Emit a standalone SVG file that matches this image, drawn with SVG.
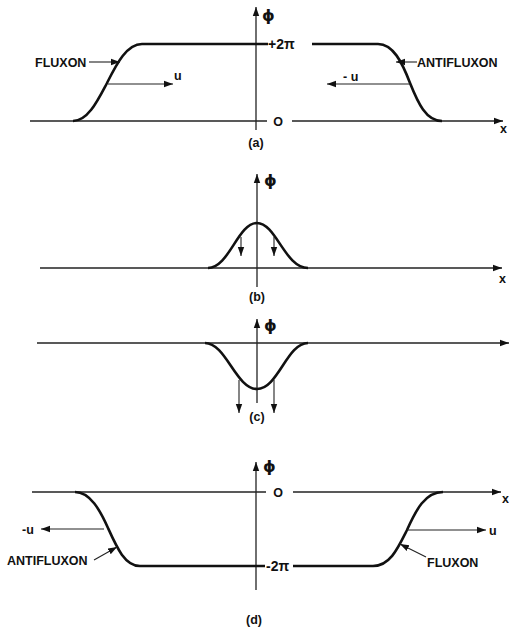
<svg xmlns="http://www.w3.org/2000/svg" width="509" height="631" viewBox="0 0 509 631">
<defs>
<marker id="ah" markerUnits="userSpaceOnUse" markerWidth="10" markerHeight="8" refX="9" refY="4" orient="auto">
<path d="M0,0.8 L9,4 L0,7.2 z" fill="#111"/>
</marker>
</defs>
<style>
.ax{stroke:#222;stroke-width:1.3;fill:none}
.cv{stroke:#111;stroke-width:2.6;fill:none;stroke-linejoin:round}
.ld{stroke:#222;stroke-width:1.1;fill:none}
.arr{marker-end:url(#ah)}
text{font-family:"Liberation Sans",Arial,sans-serif;font-size:12.5px;font-weight:bold;fill:#111}
.ph{font-family:"DejaVu Sans","Liberation Serif",serif;font-size:16px;font-weight:bold}
.pi{font-size:14px}
.c{text-anchor:middle}
</style>
<rect width="509" height="631" fill="#fff"/>

<g id="panel-a">
<g id="a-axes">
<path class="ax arr" d="M256,130 V7"/>
<path class="ax" d="M30,121 H267"/>
<path class="ax arr" d="M292,121 H503"/>
</g>
<g id="a-fluxon">
<path class="cv" d="M73,121 C88,121 98,100 107,83 C117,63 127,44 142,44 L268,44"/>
</g>
<g id="a-antifluxon">
<path class="cv" d="M312,44 L378,44 C393,44 402,62 410,83 C418,103 426,121 442,121"/>
</g>
<g id="a-connectors">
<path class="ld arr" d="M89,62 H120"/>
<path class="ld arr" d="M108,84 H173"/>
<path class="ld arr" d="M417,62 H396"/>
<path class="ld arr" d="M410,84 H327"/>
</g>
<text class="ph" x="262" y="21">ϕ</text>
<text x="35" y="67">FLUXON</text>
<text x="174" y="80">u</text>
<text class="pi" x="268" y="49">+2π</text>
<text x="278" y="126" class="c">O</text>
<text x="417" y="67">ANTIFLUXON</text>
<text x="343" y="81">- u</text>
<text x="500" y="133">x</text>
<text x="256" y="147" class="c">(a)</text>
</g>

<g id="panel-b">
<path class="ax arr" d="M257,287 V174"/>
<path class="ax arr" d="M40,268 H502"/>
<path class="cv" d="M208,268 C229,268 238,223 257,223 C276,223 285,268 308,268"/>
<path class="ld arr" d="M241,237 V256"/>
<path class="ld arr" d="M274,237 V256"/>
<text class="ph" x="264" y="186">ϕ</text>
<text x="499" y="283">x</text>
<text x="257" y="301" class="c">(b)</text>
</g>

<g id="panel-c">
<path class="ax arr" d="M257,403 V319"/>
<path class="ax arr" d="M37,343 H509"/>
<path class="cv" d="M205,343 C226,343 236,389 257,389 C278,389 287,343 308,343"/>
<path class="ld arr" d="M239,380 V413"/>
<path class="ld arr" d="M274,380 V413"/>
<text class="ph" x="264" y="331">ϕ</text>
<text x="257" y="421" class="c">(c)</text>
</g>

<g id="panel-d">
<g id="d-axes">
<path class="ax arr" d="M256,590 V462"/>
<path class="ax" d="M32,492 H266"/>
<path class="ax arr" d="M293,492 H501"/>
</g>
<g id="d-antifluxon">
<path class="cv" d="M75,492 C90,492 100,510 108,528 C117,548 125,566 140,566 L265,566"/>
</g>
<g id="d-fluxon">
<path class="cv" d="M293,566 L373,566 C390,566 398,548 407,530 C416,510 425,492 443,492"/>
</g>
<g id="d-connectors">
<path class="ld arr" d="M104,529 H41"/>
<path class="ld arr" d="M94,560 L117,547"/>
<path class="ld arr" d="M407,530 H486"/>
<path class="ld arr" d="M426,557 L400,544"/>
</g>
<text class="ph" x="263" y="472">ϕ</text>
<text x="278" y="497" class="c">O</text>
<text class="pi" x="266" y="571">-2π</text>
<text x="22" y="534">-u</text>
<text x="7" y="565">ANTIFLUXON</text>
<text x="489" y="535">u</text>
<text x="427" y="567">FLUXON</text>
<text x="502" y="503">x</text>
<text x="254" y="624" class="c">(d)</text>
</g>
</svg>
